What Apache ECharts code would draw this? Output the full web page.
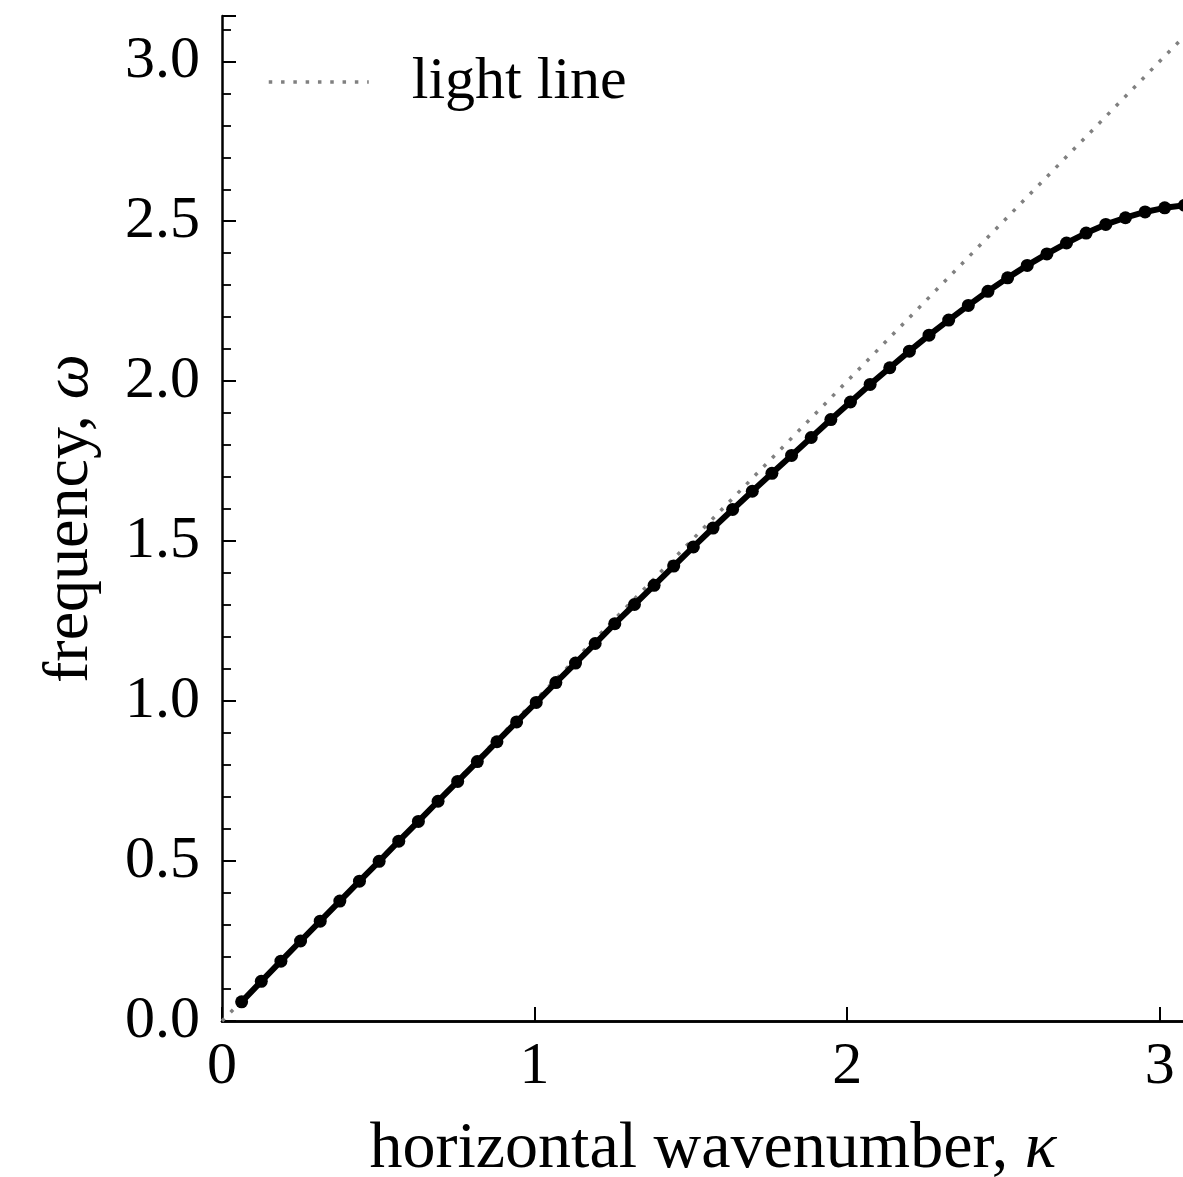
<!DOCTYPE html>
<html>
<head>
<meta charset="utf-8">
<script src="https://cdn.jsdelivr.net/npm/echarts@6/dist/echarts.min.js"></script>
<style>html,body{margin:0;padding:0;background:#fff;overflow:hidden;}#c{width:1183px;height:1177px;}</style>
</head>
<body>
<div id="c"></div>
<script>
// horizontal wavenumber kappa (n*pi/50)
const kappa = [0.0628,0.1257,0.1885,0.2513,0.3142,0.3770,0.4398,0.5027,0.5655,0.6283,
  0.6912,0.7540,0.8168,0.8796,0.9425,1.0053,1.0681,1.1310,1.1938,1.2566,
  1.3195,1.3823,1.4451,1.5080,1.5708,1.6336,1.6965,1.7593,1.8221,1.8850,
  1.9478,2.0106,2.0735,2.1363,2.1991,2.2619,2.3248,2.3876,2.4504,2.5133,
  2.5761,2.6389,2.7018,2.7646,2.8274,2.8903,2.9531,3.0159,3.0788,3.1416];
// frequency omega
const omega = [0.060,0.124,0.187,0.250,0.312,0.375,0.437,0.499,0.562,0.624,
  0.687,0.749,0.811,0.873,0.935,0.996,1.058,1.119,1.180,1.242,
  1.302,1.362,1.422,1.482,1.541,1.599,1.656,1.712,1.768,1.824,
  1.880,1.935,1.990,2.042,2.094,2.144,2.191,2.237,2.281,2.323,
  2.362,2.398,2.432,2.463,2.490,2.511,2.529,2.542,2.550,2.553];
// light line omega = kappa (end points)
const lightK = [0, 3.1416];
const lightW = [0, 3.1416];
const xTicks = [0, 1, 2, 3];
const yTicks = [0.0, 0.5, 1.0, 1.5, 2.0, 2.5, 3.0];

const FONT = 'Liberation Serif';
const AXMAX = 3.1416;
const chart = echarts.init(document.getElementById('c'), null, {renderer: 'canvas'});
const lineCol = '#000';
const gray = '#808080';
const dots = [3.5, 8.8];
chart.setOption({
  animation: false,
  backgroundColor: '#fff',
  grid: {left: 222, top: 16, width: 982, height: 1005, containLabel: false, outerBoundsMode: 'none'},
  legend: {
    data: ['light line'], left: 267, top: 52, padding: 0,
    itemWidth: 100, itemHeight: 20,
    itemStyle: {opacity: 0},
    lineStyle: {color: gray, width: 3.5, type: dots, cap: 'butt'},
    textStyle: {fontFamily: FONT, fontSize: 60, color: '#000', padding: [0, 0, 0, 38]}
  },
  xAxis: [{
    type: 'value', min: 0, max: AXMAX, interval: 1, position: 'bottom',
    axisLine: {show: true, lineStyle: {color: lineCol, width: 2.5}},
    axisTick: {show: true, inside: true, length: 14, lineStyle: {color: lineCol, width: 2}},
    axisLabel: {fontFamily: FONT, fontSize: 60, color: '#000', margin: 16,
      formatter: v => xTicks.some(t => Math.abs(t - v) < 1e-6) ? String(Math.round(v)) : ''},
    splitLine: {show: false},
    name: '{a|horizontal wavenumber, }{b|κ}', nameLocation: 'middle', nameGap: 96,
    nameTextStyle: {rich: {
      a: {fontFamily: FONT, fontSize: 66, color: '#000'},
      b: {fontFamily: FONT, fontSize: 66, color: '#000', fontStyle: 'italic'}}}
  }, {
    type: 'value', min: 0, max: AXMAX, position: 'top',
    axisLine: {show: true, lineStyle: {color: lineCol, width: 2.5}},
    axisTick: {show: false}, axisLabel: {show: false}, splitLine: {show: false}
  }],
  yAxis: [{
    type: 'value', min: 0, max: AXMAX, interval: 0.5, position: 'left',
    axisLine: {show: true, lineStyle: {color: lineCol, width: 2.5}},
    axisTick: {show: true, inside: true, length: 14, lineStyle: {color: lineCol, width: 2}},
    axisLabel: {fontFamily: FONT, fontSize: 60, color: '#000', margin: 22,
      formatter: v => yTicks.some(t => Math.abs(t - v) < 1e-6) ? v.toFixed(1) : ''},
    splitLine: {show: false},
    name: '{a|frequency, }{b|ω}', nameLocation: 'middle', nameGap: 120,
    nameTextStyle: {rich: {
      a: {fontFamily: FONT, fontSize: 64, color: '#000'},
      b: {fontFamily: FONT, fontSize: 64, color: '#000', fontStyle: 'italic'}}}
  }, {
    type: 'value', min: 0, max: AXMAX, interval: 0.1, position: 'left',
    axisLine: {show: false},
    axisTick: {show: true, inside: true, length: 9, lineStyle: {color: lineCol, width: 1.8}},
    axisLabel: {show: false}, splitLine: {show: false}
  }],
  series: [{
    name: 'light line', type: 'line', xAxisIndex: 0, yAxisIndex: 0,
    data: lightK.map((k, i) => [k, lightW[i]]),
    symbol: 'none', itemStyle: {color: gray},
    lineStyle: {color: gray, width: 3.5, type: dots, cap: 'butt'},
    z: 2
  }, {
    name: 'dispersion', type: 'line', xAxisIndex: 0, yAxisIndex: 0,
    data: kappa.map((k, i) => [k, omega[i]]),
    symbol: 'circle', symbolSize: 13, showSymbol: true,
    itemStyle: {color: '#000'},
    lineStyle: {color: '#000', width: 6},
    z: 3
  }]
});
</script>
</body>
</html>
